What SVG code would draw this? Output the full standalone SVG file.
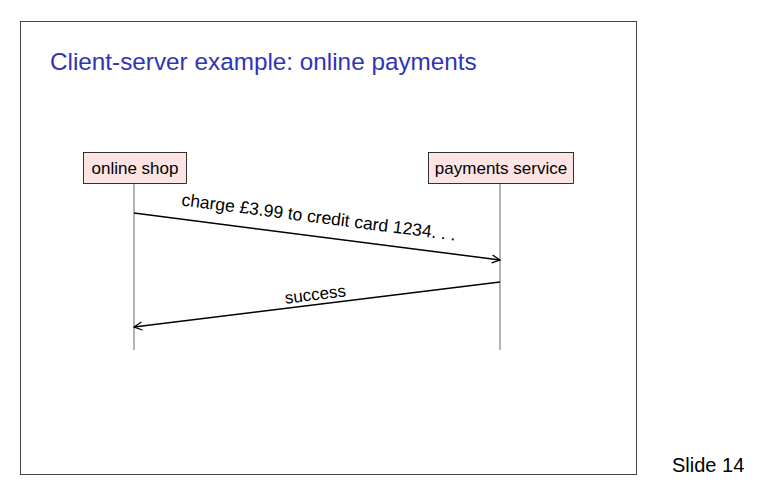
<svg xmlns="http://www.w3.org/2000/svg" width="767" height="496" viewBox="0 0 767 496">
<style>
text{font-family:"Liberation Sans","DejaVu Sans",sans-serif;}
.box{fill:#fce4e4;stroke:#000;stroke-width:0.8;}
.life{stroke:#808080;stroke-width:1.2;fill:none;}
.msg{stroke:#000;stroke-width:1.5;fill:none;marker-end:url(#arr);}
.lbl{font-size:17px;fill:#000;text-anchor:middle;}
</style>
<defs>
<marker id="arr" viewBox="0 0 10 10" refX="9" refY="5" markerWidth="10" markerHeight="10" markerUnits="userSpaceOnUse" orient="auto">
<path d="M1,1 L9,5 L1,9" fill="none" stroke="#000" stroke-width="1.3"/>
</marker>
</defs>
<rect x="20.5" y="21.5" width="616" height="453" fill="#fff" stroke="#444" stroke-width="1"/>
<text x="50" y="70" font-size="24.3" fill="#3333b3">Client-server example: online payments</text>
<g id="connectors">
<line class="life" x1="134" y1="183" x2="134" y2="350"/>
<line class="life" x1="500" y1="183" x2="500" y2="350"/>
<line class="msg" x1="134" y1="213" x2="500" y2="260"/>
<line class="msg" x1="500" y1="282" x2="134" y2="327"/>
<text class="lbl" font-size="17.5" style="font-size:17.5px" transform="translate(318,223) rotate(7.3)">charge £3.99 to credit card 1234. . .</text>
<text class="lbl" transform="translate(316,300) rotate(-7)">success</text>
</g>
<g id="shop">
<rect class="box" x="83.5" y="152.5" width="103" height="31"/>
<text class="lbl" x="135" y="174">online shop</text>
</g>
<g id="payments">
<rect class="box" x="428.5" y="152.5" width="145" height="31"/>
<text class="lbl" x="501" y="174">payments service</text>
</g>
<text x="672" y="472" font-size="20" fill="#000">Slide 14</text>
</svg>
